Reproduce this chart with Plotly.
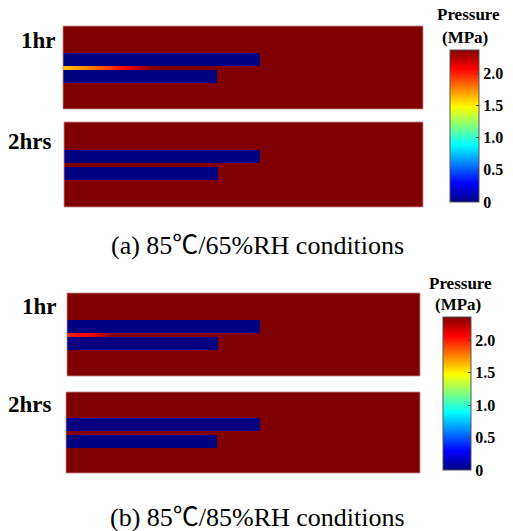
import plotly.graph_objects as go

# ---------------- data ----------------
# model geometry (arbitrary length units)
domain_length = 36.0
domain_height = 8.3
lower_bar_y = [2.6, 3.9]
upper_bar_y = [4.3, 5.6]
upper_bar_length = 19.7
lower_bar_length = 15.4

# pressure values (MPa)
saturated_pressure = 2.36
bar_pressure = 0.0

# pressure along the interface layer between bars at 1 hr
layer_x_a = [0.0, 2.0, 4.0, 6.0, 7.5, 9.0]
layer_p_a = [1.62, 1.72, 1.88, 2.05, 2.20, 2.36]
layer_x_b = [0.0, 2.0, 3.5, 4.7]
layer_p_b = [2.00, 2.07, 2.20, 2.36]

panel_labels = ["1hr", "2hrs"]
captions = ["(a) 85℃/65%RH conditions", "(b) 85℃/85%RH conditions"]
cbar_ticks = [0, 0.5, 1.0, 1.5, 2.0]
cbar_ticktext = ["0", "0.5", "1.0", "1.5", "2.0"]

# MATLAB-style jet
jet = [[0.0, "rgb(0,0,128)"], [0.125, "rgb(0,0,255)"], [0.375, "rgb(0,255,255)"],
       [0.625, "rgb(255,255,0)"], [0.875, "rgb(255,0,0)"], [1.0, "rgb(128,0,0)"]]

W, H = 513, 531
FONT = "Liberation Serif"
CAP_FONT = "Liberation Serif, Noto Sans CJK JP"

def px(x):
    return x / W

def py(y):
    return 1 - y / H

# panel rectangles in pixels: (left, top, right, bottom)
panels = [
    (63, 26, 423, 109),
    (64, 122, 423, 207),
    (67, 293, 420, 376),
    (66, 392, 420, 473),
]
layers = [(layer_x_a, layer_p_a), None, (layer_x_b, layer_p_b), None]

x_edges = [0.0, lower_bar_length, upper_bar_length, domain_length]
y_edges = [0.0, lower_bar_y[0], lower_bar_y[1], upper_bar_y[0], upper_bar_y[1], domain_height]
P, B = saturated_pressure, bar_pressure
z_base = [
    [P, P, P],
    [B, P, P],
    [P, P, P],
    [B, B, P],
    [P, P, P],
]

fig = go.Figure()
layout_axes = {}
shapes = []
for i, (l, t, r, b) in enumerate(panels):
    n = i + 1
    xa = "x" if n == 1 else f"x{n}"
    ya = "y" if n == 1 else f"y{n}"
    show = i in (0, 2)
    cb = None
    if show:
        if i == 0:
            cb = dict(x=px(450), y=py(126), len=152 / H, thickness=29)
        else:
            cb = dict(x=px(443), y=py(393.5), len=153 / H, thickness=28)
        cb.update(xanchor="left", yanchor="middle", xpad=0, ypad=0, lenmode="fraction",
                  thicknessmode="pixels", outlinecolor="#555", outlinewidth=1,
                  tickvals=cbar_ticks, ticktext=cbar_ticktext, ticks="inside",
                  ticklen=3, tickcolor="#444",
                  tickfont=dict(family=FONT, size=16, color="black", weight="bold"))
    fig.add_trace(go.Heatmap(
        x=x_edges, y=y_edges, z=z_base, colorscale=jet, zmin=0, zmax=saturated_pressure,
        xaxis=xa, yaxis=ya, showscale=show, colorbar=cb, hoverinfo="skip"))
    if layers[i] is not None:
        lx, lp = layers[i]
        fig.add_trace(go.Heatmap(
            x=lx, y=[4.0, 4.2], z=[lp, lp], colorscale=jet, zmin=0, zmax=saturated_pressure,
            zsmooth="best", xaxis=xa, yaxis=ya, showscale=False, hoverinfo="skip"))
    kx = "xaxis" if n == 1 else f"xaxis{n}"
    ky = "yaxis" if n == 1 else f"yaxis{n}"
    layout_axes[kx] = dict(domain=[px(l), px(r)], range=[0, domain_length], visible=False,
                           anchor=ya, fixedrange=True)
    layout_axes[ky] = dict(domain=[py(b), py(t)], range=[0, domain_height], visible=False,
                           anchor=xa, fixedrange=True)
    shapes.append(dict(type="rect", xref="paper", yref="paper", x0=px(l), x1=px(r),
                       y0=py(b), y1=py(t), line=dict(color="rgba(200,140,140,0.8)", width=1)))

annotations = []
label_pos = [(38, 40, 0), (30, 141, 1), (39, 306, 0), (30, 404, 1)]
for x, y, k in label_pos:
    annotations.append(dict(text=panel_labels[k], x=px(x), y=py(y), xref="paper", yref="paper",
                            showarrow=False, xanchor="center", yanchor="middle",
                            font=dict(family=FONT, size=23, color="black", weight="bold")))
for (x1, y1, x2, y2) in [(468, 15, 465, 37), (460, 283, 458, 304)]:
    annotations.append(dict(text="Pressure", x=px(x1), y=py(y1), xref="paper", yref="paper",
                            showarrow=False, xanchor="center", yanchor="middle",
                            font=dict(family=FONT, size=17, color="black", weight="bold")))
    annotations.append(dict(text="(MPa)", x=px(x2), y=py(y2), xref="paper", yref="paper",
                            showarrow=False, xanchor="center", yanchor="middle",
                            font=dict(family=FONT, size=17, color="black", weight="bold")))
for cap, y in zip(captions, [246, 517]):
    annotations.append(dict(text=cap, x=px(257), y=py(y), xref="paper", yref="paper",
                            showarrow=False, xanchor="center", yanchor="middle",
                            font=dict(family=CAP_FONT, size=26, color="black")))

fig.update_layout(width=W, height=H, margin=dict(l=0, r=0, t=0, b=0),
                  paper_bgcolor="white", plot_bgcolor="white", showlegend=False,
                  annotations=annotations, shapes=shapes, **layout_axes)

fig.write_html("out.html", config={"displayModeBar": False},
               post_script="document.body.style.margin='0px';document.body.style.overflow='hidden';")
